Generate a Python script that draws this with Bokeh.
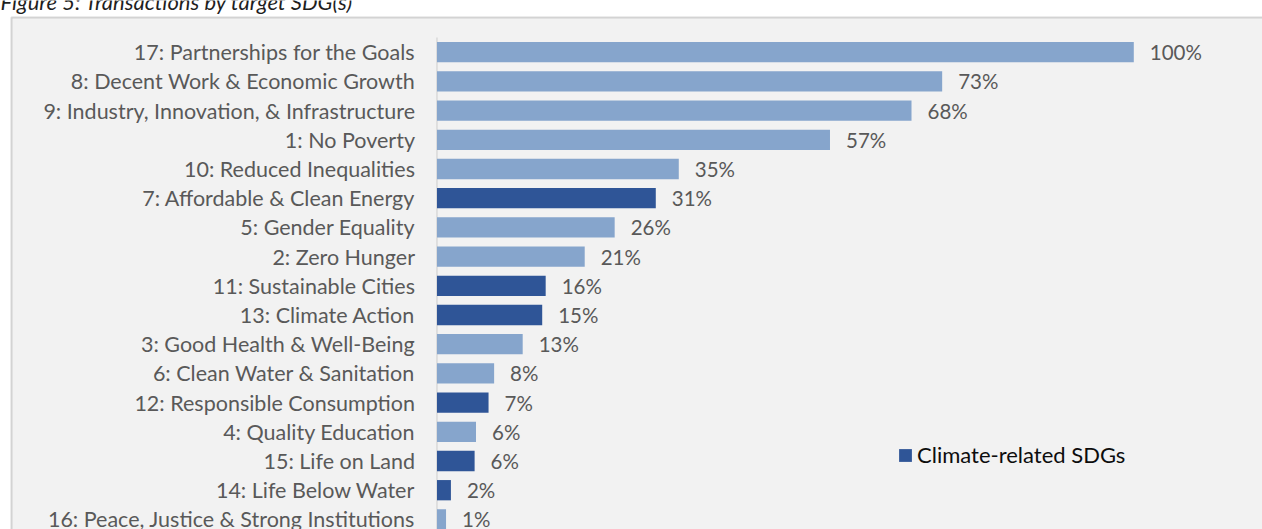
from bokeh.plotting import figure
from bokeh.models import ColumnDataSource, Range1d, Label, BoxAnnotation, Legend, LegendItem
from bokeh.core.properties import value
from bokeh.embed import file_html
from bokeh.resources import INLINE

title_text = "Figure 5: Transactions by target SDG(s)"
categories = [
    "17: Partnerships for the Goals",
    "8: Decent Work & Economic Growth",
    "9: Industry, Innovation, & Infrastructure",
    "1: No Poverty",
    "10: Reduced Inequalities",
    "7: Affordable & Clean Energy",
    "5: Gender Equality",
    "2: Zero Hunger",
    "11: Sustainable Cities",
    "13: Climate Action",
    "3: Good Health & Well-Being",
    "6: Clean Water & Sanitation",
    "12: Responsible Consumption",
    "4: Quality Education",
    "15: Life on Land",
    "14: Life Below Water",
    "16: Peace, Justice & Strong Institutions",
]
pct = [100, 72.5, 68.1, 56.4, 34.7, 31.4, 25.5, 21.2, 15.6, 15.1, 12.3, 8.2, 7.4, 5.6, 5.4, 2.0, 1.3]
pct_labels = ["100%", "73%", "68%", "57%", "35%", "31%", "26%", "21%", "16%", "15%",
              "13%", "8%", "7%", "6%", "6%", "2%", "1%"]
climate = [False, False, False, False, False, True, False, False, True, True,
           False, False, True, False, True, True, False]
legend_label = "Climate-related SDGs"

LIGHT = "#86A5CC"
DARK = "#2F5597"
FONT = "Lato"

idx = list(range(len(categories)))
src = ColumnDataSource(dict(
    y=idx, cat=categories, pct=pct, lab=pct_labels,
    color=[DARK if c else LIGHT for c in climate],
    zero=[0] * len(categories),
))

W, H = 1262, 529
p = figure(width=W, height=H, output_backend="svg", toolbar_location=None,
           x_axis_type=None, y_axis_type=None,
           x_range=Range1d(-62.64, 118.47), y_range=Range1d(16.346, -1.771),
           min_border=0, min_border_left=0, min_border_right=0,
           min_border_top=0, min_border_bottom=0)
p.outline_line_color = None
p.background_fill_color = "white"
p.border_fill_color = "white"
p.grid.visible = False

box = BoxAnnotation(left=11, right=W + 50, bottom=-50, top=H - 17,
                    left_units="screen", right_units="screen",
                    bottom_units="screen", top_units="screen",
                    fill_color="#f2f2f2", fill_alpha=1,
                    line_color="#7f7f7f", line_width=2, level="underlay")
p.add_layout(box)

p.add_layout(Label(x=0, y=H - 1, x_units="screen", y_units="screen",
                   text=title_text, text_font=FONT, text_font_style="italic",
                   text_font_size="22px", text_color="#1f1f1f",
                   text_baseline="alphabetic"))

# axis line
p.segment(x0=0, y0=-0.5, x1=0, y1=len(categories) + 1, line_color="#d9d9d9", line_width=1.5)

bars = p.hbar(y="y", left="zero", right="pct", height=0.695, source=src,
              fill_color="color", line_color=None)

p.text(x="zero", y="y", text="cat", source=src, x_offset=-22,
       text_align="right", text_baseline="middle",
       text_font=value(FONT), text_font_size="21.5px", text_color="#595959")

p.text(x="pct", y="y", text="lab", source=src, x_offset=16,
       text_align="left", text_baseline="middle",
       text_font=value(FONT), text_font_size="20.5px", text_color="#595959")

legend = Legend(items=[LegendItem(label=legend_label, renderers=[bars], index=climate.index(True))],
                location=(897, 61), orientation="vertical",
                glyph_width=16, glyph_height=16, label_height=16,
                label_standoff=4, padding=0, margin=0, spacing=0,
                border_line_color=None, background_fill_alpha=0,
                label_text_font=FONT, label_text_font_size="22px", label_text_color="#0d0d0d")
p.add_layout(legend)

open("out.html", "w").write(file_html(p, INLINE))
